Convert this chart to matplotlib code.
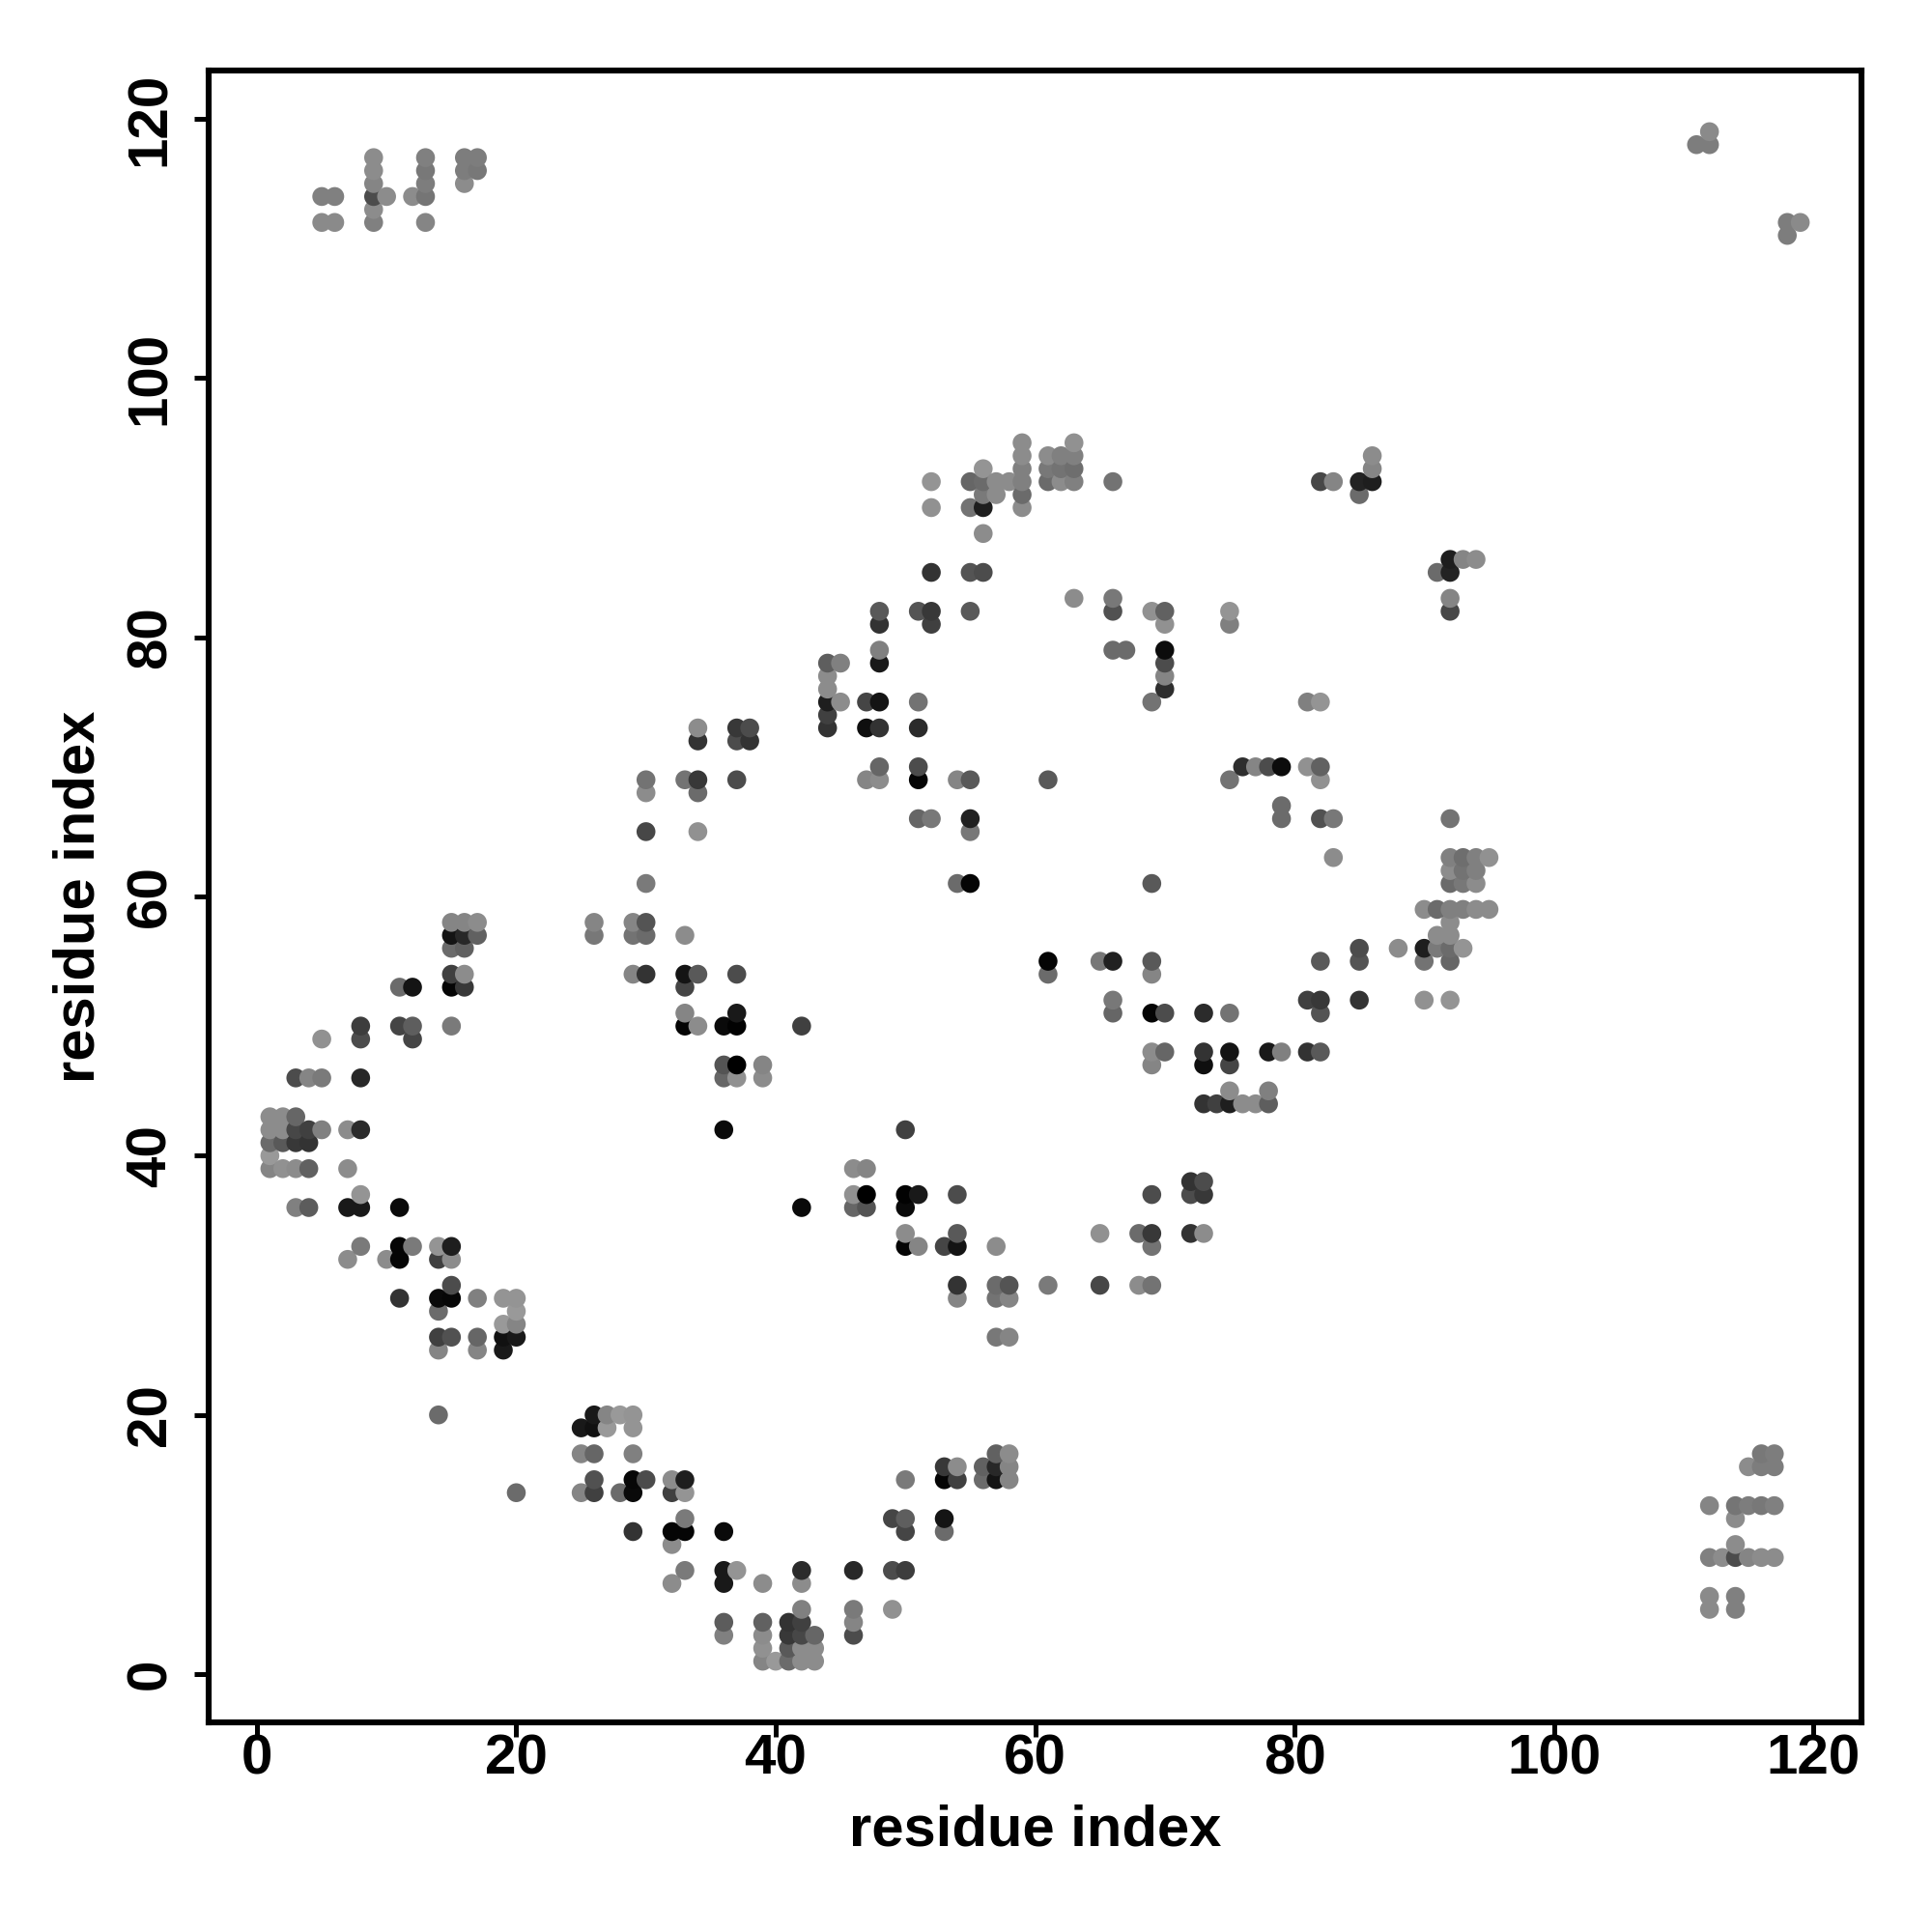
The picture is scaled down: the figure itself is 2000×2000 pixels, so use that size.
import matplotlib
matplotlib.use("Agg")
import matplotlib.pyplot as plt

plt.rcParams['font.family'] = ['Liberation Sans', 'DejaVu Sans']
plt.rcParams['font.weight'] = 'bold'

# contact map is symmetric, only pairs with res_a < res_b are listed
# same line = same res_a in all three lists
res_a = [
    1, 1, 1, 1, 1,
    2, 2, 2, 2,
    3, 3, 3, 3, 3, 3,
    4, 4, 4, 4, 4,
    5, 5, 5, 5, 5,
    6, 6,
    7, 7, 7, 7,
    8, 8, 8, 8, 8, 8, 8,
    9, 9, 9, 9, 9, 9,
    10, 10,
    11, 11, 11, 11, 11, 11,
    12, 12, 12, 12, 12,
    13, 13, 13, 13, 13,
    14, 14, 14, 14, 14, 14, 14,
    15, 15, 15, 15, 15, 15, 15, 15, 15, 15, 15,
    16, 16, 16, 16, 16, 16, 16, 16,
    17, 17, 17, 17, 17, 17, 17,
    19, 19, 19, 19,
    20, 20, 20, 20,
    26, 26,
    29, 29, 29,
    30, 30, 30, 30, 30, 30, 30,
    33, 33, 33, 33, 33, 33,
    34, 34, 34, 34, 34, 34, 34,
    36, 36, 36, 36,
    37, 37, 37, 37, 37, 37, 37, 37,
    38, 38,
    39, 39,
    42,
    44, 44, 44, 44, 44, 44,
    45, 45,
    47, 47, 47,
    48, 48, 48, 48, 48, 48, 48, 48,
    51, 51, 51, 51, 51, 51,
    52, 52, 52, 52, 52, 52,
    54, 54,
    55, 55, 55, 55, 55, 55, 55, 55,
    56, 56, 56, 56, 56, 56,
    57, 57,
    58,
    59, 59, 59, 59, 59, 59,
    61, 61, 61, 61,
    62, 62, 62,
    63, 63, 63, 63, 63,
    66, 66, 66, 66,
    67,
    69, 69,
    70, 70, 70, 70, 70, 70,
    75, 75,
    82, 83,
    85, 85,
    86, 86, 86,
    111, 112, 112,
]
res_b = [
    39, 40, 41, 42, 43,
    39, 41, 42, 43,
    36, 39, 41, 42, 43, 46,
    36, 39, 41, 42, 46,
    42, 46, 49, 112, 114,
    112, 114,
    32, 36, 39, 42,
    33, 36, 37, 42, 46, 49, 50,
    112, 113, 114, 115, 116, 117,
    32, 114,
    29, 32, 33, 36, 50, 53,
    33, 49, 50, 53, 114,
    112, 114, 115, 116, 117,
    20, 25, 26, 28, 29, 32, 33,
    26, 29, 30, 32, 33, 50, 53, 54, 56, 57, 58,
    53, 54, 56, 57, 58, 115, 116, 117,
    25, 26, 29, 57, 58, 116, 117,
    25, 26, 27, 29,
    26, 27, 28, 29,
    57, 58,
    54, 57, 58,
    54, 57, 58, 61, 65, 68, 69,
    50, 51, 53, 54, 57, 69,
    50, 54, 65, 68, 69, 72, 73,
    42, 46, 47, 50,
    46, 47, 50, 51, 54, 69, 72, 73,
    72, 73,
    46, 47,
    50,
    73, 74, 75, 76, 77, 78,
    75, 78,
    69, 73, 75,
    69, 70, 73, 75, 78, 79, 81, 82,
    66, 69, 70, 73, 75, 82,
    66, 81, 82, 85, 90, 92,
    61, 69,
    61, 65, 66, 69, 82, 85, 90, 92,
    85, 88, 90, 91, 92, 93,
    91, 92,
    92,
    90, 91, 92, 93, 94, 95,
    69, 92, 93, 94,
    92, 93, 94,
    83, 92, 93, 94, 95,
    79, 82, 83, 92,
    79,
    75, 82,
    76, 77, 78, 79, 81, 82,
    81, 82,
    92, 92,
    91, 92,
    92, 93, 94,
    118, 118, 119,
]
shade = [
    .52, .60, .42, .55, .55,
    .57, .35, .55, .55,
    .50, .55, .22, .28, .40, .30,
    .36, .38, .20, .25, .52,
    .50, .48, .57, .54, .50,
    .54, .50,
    .55, .10, .55, .55,
    .48, .10, .58, .17, .16, .30, .24,
    .50, .55, .30, .52, .55, .55,
    .55, .55,
    .20, .02, .02, .04, .27, .42,
    .48, .27, .37, .08, .55,
    .52, .46, .49, .47, .50,
    .42, .52, .25, .42, .04, .25, .58,
    .32, .03, .30, .55, .12, .48, .02, .25, .42, .08, .52,
    .22, .55, .38, .16, .52, .55, .49, .49,
    .52, .40, .50, .38, .55, .47, .49,
    .10, .07, .60, .58,
    .10, .52, .60, .58,
    .47, .52,
    .52, .45, .52,
    .20, .42, .33, .48, .28, .55, .45,
    .02, .52, .27, .08, .55, .45,
    .55, .35, .57, .42, .22, .20, .55,
    .04, .40, .33, .04,
    .57, .00, .01, .10, .30, .30, .30, .22,
    .20, .30,
    .55, .52,
    .25,
    .20, .25, .12, .55, .55, .37,
    .55, .50,
    .52, .06, .27,
    .55, .40, .20, .08, .10, .50, .20, .35,
    .40, .02, .30, .17, .45, .33,
    .47, .25, .22, .20, .57, .58,
    .42, .52,
    .02, .47, .13, .35, .35, .33, .45, .40,
    .30, .55, .12, .48, .42, .58,
    .55, .55,
    .55,
    .55, .42, .50, .50, .55, .55,
    .35, .42, .47, .55,
    .55, .45, .50,
    .55, .50, .43, .50, .57,
    .42, .32, .47, .45,
    .42,
    .45, .57,
    .18, .52, .30, .05, .57, .38,
    .50, .58,
    .28, .52,
    .42, .14,
    .12, .52, .55,
    .49, .49, .54,
]
x_ticks = [0, 20, 40, 60, 80, 100, 120]
y_ticks = [0, 20, 40, 60, 80, 100, 120]

xs = res_a + res_b
ys = res_b + res_a
cs = shade + shade

fig = plt.figure(figsize=(20, 20), dpi=100)
ax = fig.add_axes([216 / 2000, 1 - 1783 / 2000, 1711 / 2000, 1710 / 2000])

ax.scatter(xs, ys, c=cs, cmap='gray', vmin=0, vmax=1, s=198, linewidths=0, clip_on=False)

ax.set_xlim(-3.72, 123.72)
ax.set_ylim(-3.72, 123.72)
ax.set_xticks(x_ticks)
ax.set_yticks(y_ticks)
ax.tick_params(axis='both', length=10.5, width=3.6, labelsize=42)
ax.tick_params(axis='x', pad=-2)
ax.tick_params(axis='y', pad=13)
for lab in ax.get_yticklabels():
    lab.set_rotation(90)
    lab.set_va('center')

for spine in ax.spines.values():
    spine.set_linewidth(4.4)

ax.set_xlabel("residue index", fontsize=43, fontweight='bold')
ax.set_ylabel("residue index", fontsize=43, fontweight='bold')
ax.xaxis.set_label_coords(0.5, -0.0495)
ax.yaxis.set_label_coords(-0.062, 0.5)

plt.savefig("out.png", dpi=100, facecolor='white')
